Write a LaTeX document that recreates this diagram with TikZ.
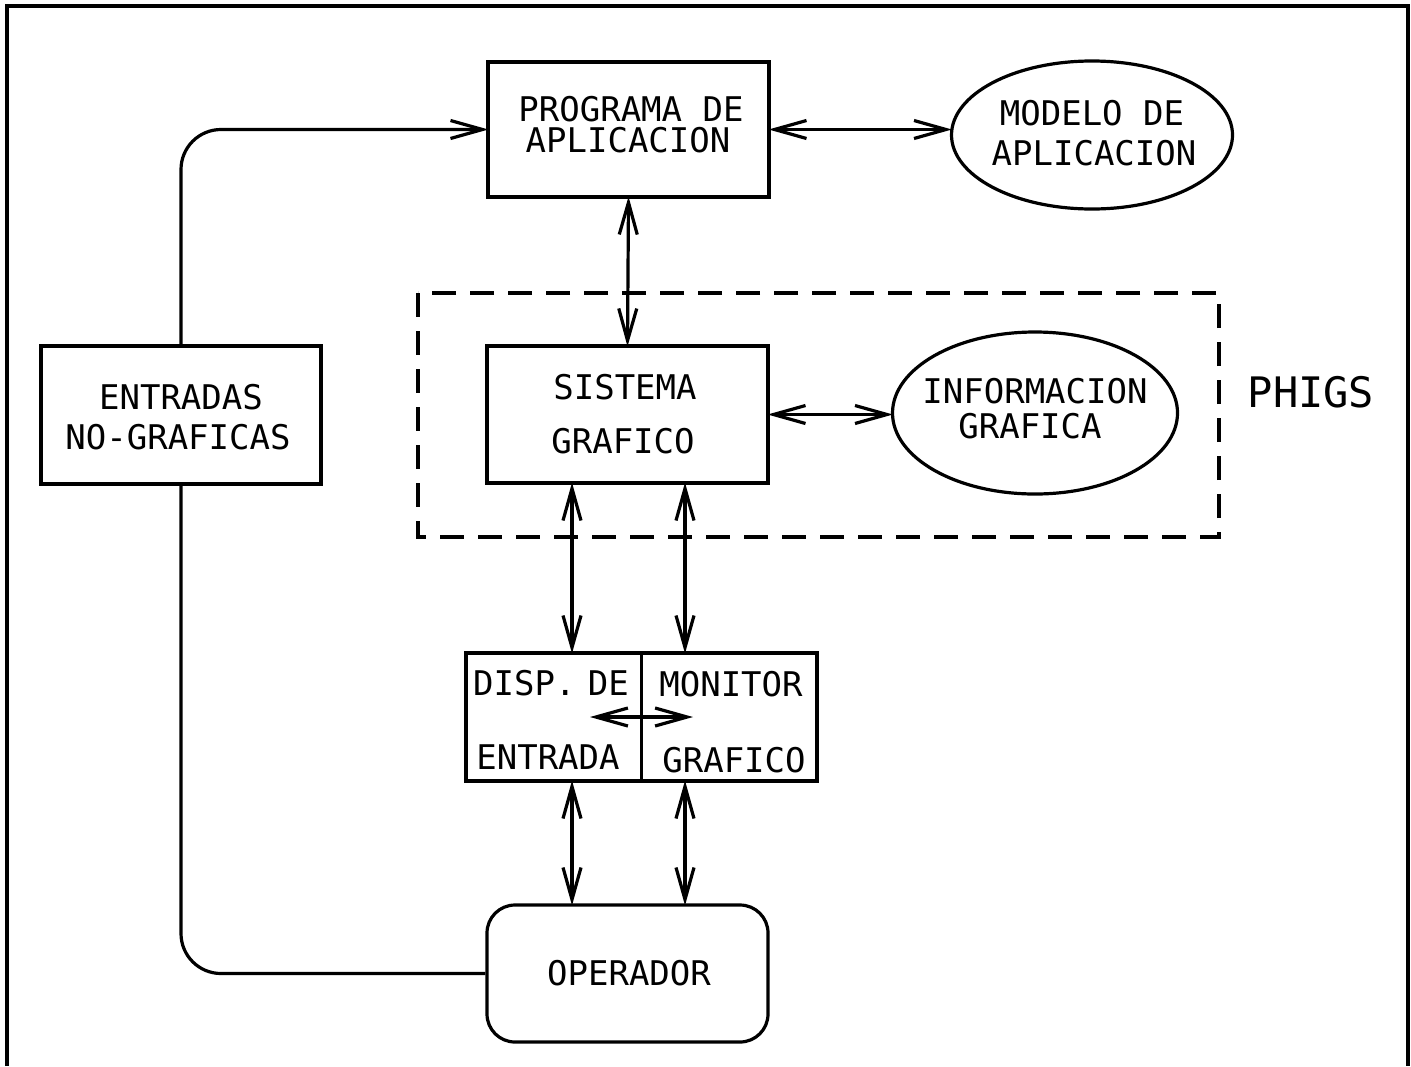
\documentclass[tikz,border=0pt]{standalone}
\usepackage{fontspec}
\setmonofont{DejaVu Sans Mono}
\usetikzlibrary{arrows.meta,shapes.geometric}
\begin{document}
\begin{tikzpicture}[x=0.5pt,y=-0.5pt,
  line width=1.6pt,
  tip/.tip={Straight Barb[length=16pt,width=9pt,line width=1.6pt]},
  box/.style={draw,rectangle,inner sep=0pt},
  oval/.style={draw,ellipse,inner sep=0pt},
  lbl/.style={inner sep=0pt,font=\ttfamily\fontsize{17}{20}\selectfont},
  big/.style={inner sep=0pt,font=\ttfamily\fontsize{21}{24}\selectfont},
  link/.style={tip-tip,shorten <=-1pt,shorten >=-1pt},
  feed/.style={rounded corners=20pt}]
\useasboundingbox (0,0) rectangle (1411,1066);

% outer frame, open at the bottom
\draw[line width=1.6pt] (7,1066) -- (7,6) -- (1408,6) -- (1408,1066);

% PHIGS region
\draw[dashed,line width=1.8pt,dash pattern=on 12pt off 7pt] (418,293) rectangle (1219,537);

% blocks
\node[box,minimum width=140.5pt,minimum height=67.5pt] (prog) at (628.5,129.5) {};
\node[oval,minimum width=140.5pt,minimum height=74pt] (modelo) at (1092,135) {};
\node[box,minimum width=140pt,minimum height=69pt] (ent) at (181,415) {};
\node[box,minimum width=140.5pt,minimum height=68.5pt] (sis) at (627.5,414.5) {};
\node[oval,minimum width=142.5pt,minimum height=81pt] (inf) at (1035,413) {};
\node[box,minimum width=175.5pt,minimum height=64pt] (dm) at (641.5,717) {};
\node[box,rounded corners=14pt,minimum width=140.5pt,minimum height=68.5pt] (op) at (627.5,973.5) {};
\draw (dm.north) -- (dm.south);

% texts
\node[lbl] (t1) at (631,109) {PROGRAMA DE};
\node[lbl] (t2) at (628,140) {APLICACION};
\node[lbl] (t3) at (1092,113) {MODELO DE};
\node[lbl] (t4) at (1094,153) {APLICACION};
\node[lbl] (t5) at (181,397) {ENTRADAS};
\node[lbl] (t6) at (178,437) {NO-GRAFICAS};
\node[lbl] (t7) at (625,387) {SISTEMA};
\node[lbl] (t8) at (623,441) {GRAFICO};
\node[lbl] (t9) at (1035,391) {INFORMACION};
\node[lbl] (t10) at (1030,426) {GRAFICA};
\node[big] (phigs) at (1311,392) {PHIGS};
\node[lbl] (t11) at (551,683) {DISP.\kern-4pt\ DE};
\node[lbl] (t12) at (548,757) {ENTRADA};
\node[lbl] (t13) at (731,684) {MONITOR};
\node[lbl] (t14) at (734,760) {GRAFICO};
\node[lbl] (t15) at (629,973) {OPERADOR};

% column positions of the vertical links
\coordinate (ca) at (572,0);
\coordinate (cb) at (685,0);
\coordinate (hl) at (590,717);
\coordinate (hr) at (693,717);

% connectors
\draw[link] (prog.east) -- (prog.east -| modelo.west);
\draw[link] (prog.south) -- (sis.north);
\draw[link] (sis.east) -- (sis.east -| inf.west);
\draw[link] (sis.south -| ca) -- (dm.north -| ca);
\draw[link] (sis.south -| cb) -- (dm.north -| cb);
\draw[link] (dm.south -| ca) -- (op.north -| ca);
\draw[link] (dm.south -| cb) -- (op.north -| cb);
\draw[tip-tip] (hl) -- (hr);
\draw[feed,-tip,shorten >=-1pt] (ent.north) |- (prog.west);
\draw[feed] (ent.south) |- (op.west);
\end{tikzpicture}
\end{document}
